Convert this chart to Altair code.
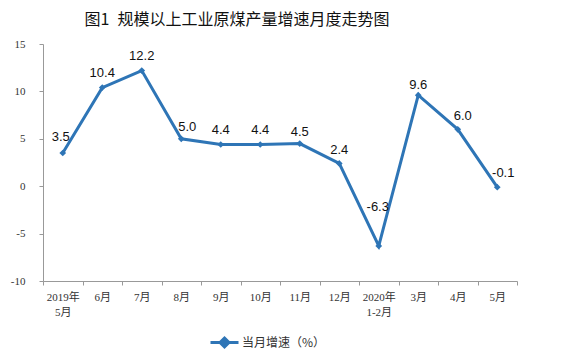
import altair as alt
import pandas as pd

months = ["2019年\n5月", "6月", "7月", "8月", "9月", "10月", "11月", "12月",
          "2020年\n1-2月", "3月", "4月", "5月"]
growth = [3.5, 10.4, 12.2, 5.0, 4.4, 4.4, 4.5, 2.4, -6.3, 9.6, 6.0, -0.1]
series_name = "当月增速（%）"
y_ticks = [-10, -5, 0, 5, 10, 15]

# label placement tweaks (style only)
label_dx = [-2, 0, 0, 6, 0, 0, 0, 0, -1, 0, 5, 6]
label_dy = [-16, -15, -15, -12, -14, -14, -12, -13, -39, -10, -13, -14]

df = pd.DataFrame({
    "month": months,
    "growth": growth,
    "label": [f"{v:.1f}" for v in growth],
    "series": [series_name] * len(months),
    "dx": label_dx,
    "dy": label_dy,
})

blue = "#2E75B6"
serif_cjk = "'Liberation Serif', 'Noto Sans CJK SC'"

x_enc = alt.X("month:N", sort=months,
              scale=alt.Scale(paddingInner=0, paddingOuter=0),
              axis=alt.Axis(title=None, labelAngle=0, tickBand="extent",
                            labelExpr="split(datum.label, '\\n')",
                            labelFont=serif_cjk, labelFontSize=11,
                            labelColor="#333", labelPadding=6, labelLineHeight=15,
                            domainColor="#999", tickColor="#999", tickSize=4))
y_enc = alt.Y("growth:Q",
              scale=alt.Scale(domain=[-10, 15], nice=False, zero=False),
              axis=alt.Axis(title=None, values=y_ticks, grid=False,
                            labelExpr="'' + datum.value",
                            labelFont="Liberation Serif", labelFontSize=11,
                            labelColor="#333", labelPadding=14,
                            domainColor="#999", tickColor="#999", tickSize=4))

base = alt.Chart(df)

line = base.mark_line(
    strokeWidth=3,
    point=alt.OverlayMarkDef(shape="diamond", size=45, filled=True, color=blue),
).encode(
    x=x_enc,
    y=y_enc,
    color=alt.Color("series:N", scale=alt.Scale(range=[blue]),
                    legend=alt.Legend(
                        title=None, orient="none", legendX=166, legendY=283,
                        symbolType="M-1,0H1M0,-0.32L0.32,0L0,0.32L-0.32,0Z",
                        symbolSize=784, symbolStrokeWidth=3,
                        symbolFillColor=blue,
                        labelFont="Noto Sans CJK SC", labelFontSize=12,
                        labelColor="#333", labelOffset=2)),
)

labels = base.mark_text(
    font="Liberation Sans", fontSize=13, color="#111",
    dx=alt.ExprRef("datum.dx"), dy=alt.ExprRef("datum.dy"),
).encode(
    x=alt.X("month:N", sort=months),
    y=alt.Y("growth:Q"),
    text=alt.Text("label:N"),
)

chart = alt.layer(line, labels).properties(
    width=474,
    height=237,
    title=alt.TitleParams("图1\u2002规模以上工业原煤产量增速月度走势图",
                          font="Noto Sans CJK SC", fontSize=16,
                          fontWeight="normal", color="#111",
                          anchor="middle", frame="group", dx=-43, offset=10),
    autosize=alt.AutoSizeParams(type="none"),
    padding={"left": 35, "top": 36, "right": 57, "bottom": 69},
).configure_view(stroke=None)

chart.save("out.html", embed_options={"renderer": "svg", "actions": False})
